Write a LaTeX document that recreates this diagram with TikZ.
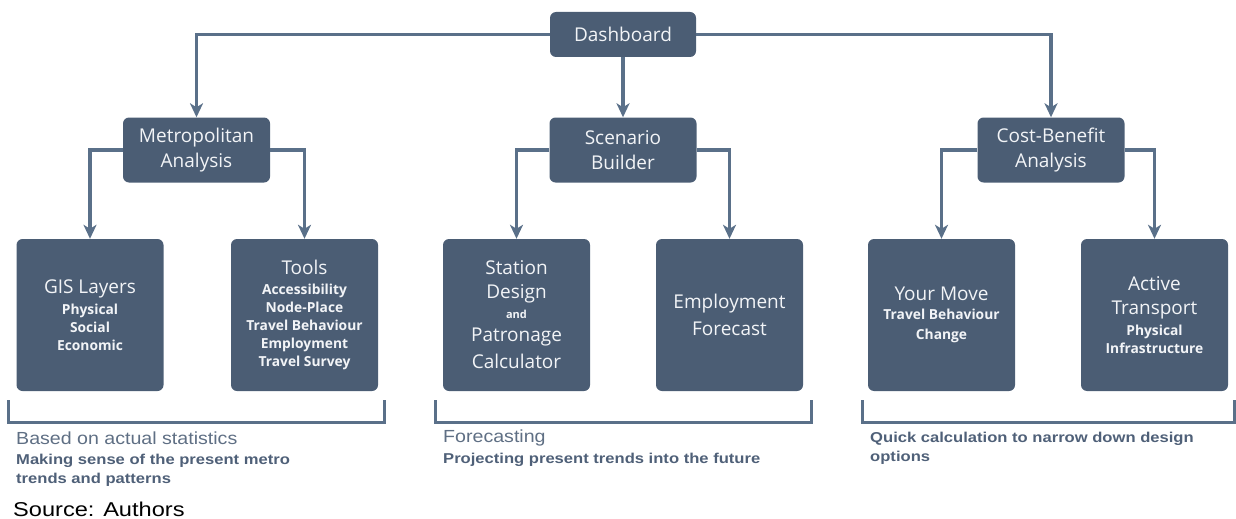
\documentclass[tikz,border=0pt]{standalone}
\usepackage{fontspec}
\setmainfont{Open Sans}
\newfontfamily\capreg[FakeStretch=1.12]{Liberation Sans}
\newfontfamily\capbold[FakeStretch=1.16]{Liberation Sans}
\newfontfamily\srcfont[FakeStretch=1.18]{Liberation Sans}
\usetikzlibrary{arrows.meta}

\definecolor{boxfill}{HTML}{4B5D74}
\definecolor{boxtext}{HTML}{F2F4F7}
\definecolor{linecol}{HTML}{5A7089}
\definecolor{captext}{HTML}{4F6078}
\definecolor{caplight}{HTML}{5F6F84}

\newcommand\hd[1]{{\mdseries\fontsize{19}{25}\selectfont #1}}
\newcommand\sm[1]{{\fontsize{11}{14}\selectfont #1}}

\tikzset{
  box/.style={fill=boxfill, rounded corners=6pt, text=boxtext, align=center,
    inner sep=0pt, font=\fontsize{19}{25}\selectfont},
  topbox/.style={box, minimum width=147pt, minimum height=65pt},
  leafbox/.style={box, minimum width=147pt, minimum height=152pt,
    font=\bfseries\fontsize{13.8}{18}\selectfont},
  arr/.style={draw=linecol, line width=3.2pt,
    -{Stealth[length=14pt,width=13pt,inset=4pt]}},
  bracket/.style={draw=linecol, line width=3pt},
  capline/.style={anchor=west, inner sep=0pt, text=captext},
}

\begin{document}
\begin{tikzpicture}[x=1pt,y=-1pt]
\useasboundingbox (0,0) rectangle (1236,519);

% root
\node[box, minimum width=146pt, minimum height=45pt] (dash) at (623,34.5) {Dashboard};

% second level
\node[topbox] (metro) at (196.5,150) {\rule{0pt}{0pt}Metropolitan\\Analysis};
\node[topbox] (scen)  at (623,150)   {Scenario\\Builder};
\node[topbox] (cba)   at (1051,150)  {Cost-Benefit\\Analysis};

% leaves
\node[leafbox] (gis) at (90,315)
  {\hd{GIS Layers}\\[3pt]Physical\\Social\\Economic};
\node[leafbox] (tools) at (304.5,315)
  {\hd{Tools}\\[2.5pt]Accessibility\\Node-Place\\Travel Behaviour\\Employment\\Travel Survey};
\node[leafbox] (station) at (516.5,315)
  {\hd{Station}\\[6pt]\hd{Design}\\[2pt]\sm{and}\\[5pt]\hd{Patronage}\\[7pt]\hd{Calculator}};
\node[leafbox] (employ) at (729.5,315)
  {\hd{Employment}\\[8pt]\hd{Forecast}};
\node[leafbox] (move) at (941.5,315)
  {\hd{Your Move}\\[0.5pt]Travel Behaviour\\[2pt]Change};
\node[leafbox] (active) at (1154.5,315)
  {\hd{Active}\\[6pt]\hd{Transport}\\[2.5pt]Physical\\Infrastructure};

% connectors
\draw[arr] (dash.west) -| (metro.north);
\draw[arr] (dash.south) -- (scen.north);
\draw[arr] (dash.east) -| (cba.north);
\draw[arr] (metro.west) -| (gis.north);
\draw[arr] (metro.east) -| (tools.north);
\draw[arr] (scen.west) -| (station.north);
\draw[arr] (scen.east) -| (employ.north);
\draw[arr] (cba.west) -| (move.north);
\draw[arr] (cba.east) -| (active.north);

% group brackets
\draw[bracket] (8,400) -- (8,422) -- (384,422) -- (384,400);
\draw[bracket] (435,400) -- (435,422) -- (811,422) -- (811,400);
\draw[bracket] (862,400) -- (862,422) -- (1234.6,422) -- (1234.6,400);

% captions
\node[capline, text=caplight, font=\capreg\fontsize{17.5}{20}\selectfont] (c1a) at (16,438) {Based on actual statistics};
\node[capline, font=\capbold\bfseries\fontsize{14.3}{18}\selectfont] (c1b) at (16,461) {Making sense of the present metro};
\node[capline, font=\capbold\bfseries\fontsize{14.3}{18}\selectfont] (c1c) at (16,480) {trends and patterns};
\node[capline, text=caplight, font=\capreg\fontsize{17.5}{20}\selectfont] (c2a) at (443,438) {Forecasting};
\node[capline, font=\capbold\bfseries\fontsize{14.3}{18}\selectfont] (c2b) at (443,460) {Projecting present trends into the future};
\node[capline, font=\capbold\bfseries\fontsize{14.3}{18}\selectfont] (c3a) at (870,439) {Quick calculation to narrow down design};
\node[capline, font=\capbold\bfseries\fontsize{14.3}{18}\selectfont] (c3b) at (870,458) {options};

\node[anchor=west, inner sep=0pt, text=black, font=\srcfont\fontsize{20}{24}\selectfont] (src) at (13,509) {Source: Authors};
\end{tikzpicture}
\end{document}
